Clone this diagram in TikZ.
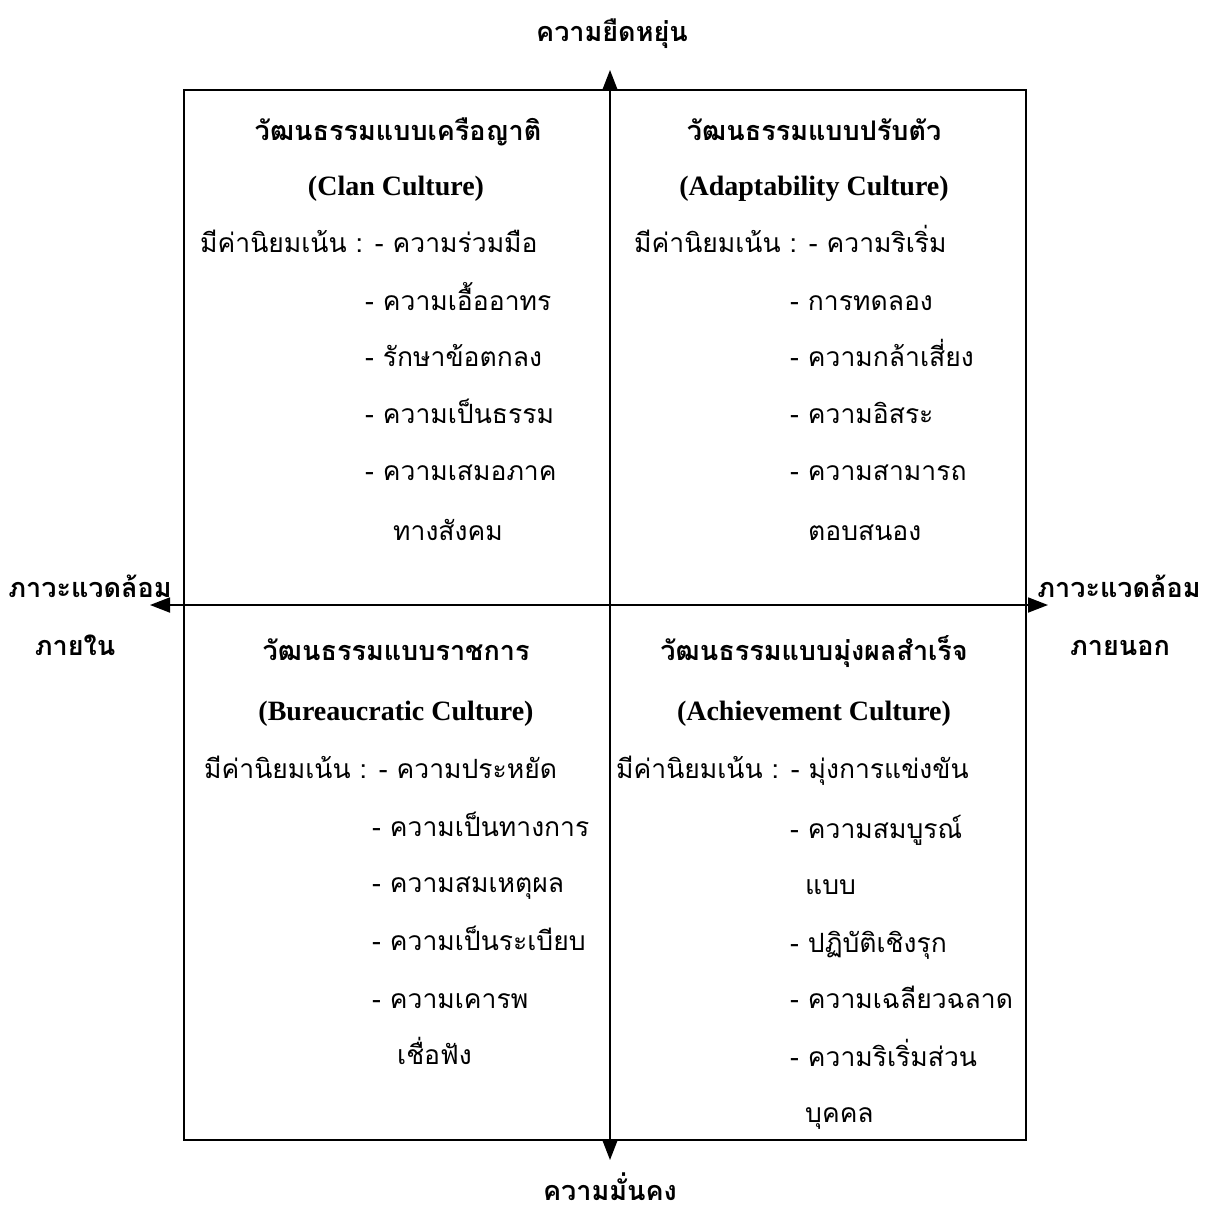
\documentclass[tikz,border=0pt]{standalone}
\usepackage{fontspec}
\usetikzlibrary{arrows.meta}
\newfontfamily\thaifont[Script=Thai]{Loma}
\newfontfamily\engfont{Liberation Serif}
\tikzset{
  txt/.style = {inner sep=0, font=\thaifont\fontsize{26.5}{32}\selectfont},
  item/.style = {txt, anchor=base west},
  head/.style = {inner sep=0, anchor=base, font=\thaifont\bfseries\fontsize{27}{32}\selectfont},
  eng/.style = {inner sep=0, anchor=base, font=\engfont\bfseries\fontsize{28}{34}\selectfont},
  axis/.style = {line width=1.8pt, -{Triangle[length=20pt, width=15pt]}}
}
\begin{document}
\begin{tikzpicture}[x=1pt, y=-1pt]
\useasboundingbox (0,0) rectangle (1214,1215);
% frame and axes
\draw[line width=1.6pt] (184,90) rectangle (1026,1140);
\coordinate (o) at (610,605);
\coordinate (n) at (610,70);
\coordinate (s) at (610,1160);
\coordinate (w) at (150,605);
\coordinate (e) at (1048,605);
\draw[axis] (o) -- (n);
\draw[axis] (o) -- (s);
\draw[axis] (o) -- (w);
\draw[axis] (o) -- (e);
% axis labels
\node[head] (flex) at (612,42) {ความยืดหยุ่น};
\node[head] (stab) at (610,1200) {ความมั่นคง};
\node[head] (in1) at (90,597) {ภาวะแวดล้อม};
\node[head] (in2) at (75,655) {ภายใน};
\node[head] (ex1) at (1119,597) {ภาวะแวดล้อม};
\node[head] (ex2) at (1120,655) {ภายนอก};
% clan
\node[head] (clan) at (398,140) {วัฒนธรรมแบบเครือญาติ};
\node[eng] (clanen) at (396,195) {(Clan Culture)};
\node[item] (clan0) at (200,252) {มีค่านิยมเน้น : - ความร่วมมือ};
\node[item] (clan1) at (365,310) {- ความเอื้ออาทร};
\node[item] (clan2) at (365,366) {- รักษาข้อตกลง};
\node[item] (clan3) at (365,423) {- ความเป็นธรรม};
\node[item] (clan4) at (365,480) {- ความเสมอภาค};
\node[item] (clan5) at (393,540) {ทางสังคม};
% adaptability
\node[head] (adapt) at (814,140) {วัฒนธรรมแบบปรับตัว};
\node[eng] (adapten) at (814,195) {(Adaptability Culture)};
\node[item] (adapt0) at (634,252) {มีค่านิยมเน้น : - ความริเริ่ม};
\node[item] (adapt1) at (790,310) {- การทดลอง};
\node[item] (adapt2) at (790,366) {- ความกล้าเสี่ยง};
\node[item] (adapt3) at (790,423) {- ความอิสระ};
\node[item] (adapt4) at (790,480) {- ความสามารถ};
\node[item] (adapt5) at (808,540) {ตอบสนอง};
% bureaucratic
\node[head] (bur) at (396,660) {วัฒนธรรมแบบราชการ};
\node[eng] (buren) at (396,720) {(Bureaucratic Culture)};
\node[item] (bur0) at (204,778) {มีค่านิยมเน้น : - ความประหยัด};
\node[item] (bur1) at (372,836) {- ความเป็นทางการ};
\node[item] (bur2) at (372,892) {- ความสมเหตุผล};
\node[item] (bur3) at (372,950) {- ความเป็นระเบียบ};
\node[item] (bur4) at (372,1008) {- ความเคารพ};
\node[item] (bur5) at (397,1064) {เชื่อฟัง};
% achievement
\node[head] (ach) at (814,660) {วัฒนธรรมแบบมุ่งผลสำเร็จ};
\node[eng] (achen) at (814,720) {(Achievement Culture)};
\node[item] (ach0) at (616,778) {มีค่านิยมเน้น : - มุ่งการแข่งขัน};
\node[item] (ach1) at (790,838) {- ความสมบูรณ์};
\node[item] (ach2) at (805,894) {แบบ};
\node[item] (ach3) at (790,952) {- ปฏิบัติเชิงรุก};
\node[item] (ach4) at (790,1008) {- ความเฉลียวฉลาด};
\node[item] (ach5) at (790,1066) {- ความริเริ่มส่วน};
\node[item] (ach6) at (805,1122) {บุคคล};
\end{tikzpicture}
\end{document}
